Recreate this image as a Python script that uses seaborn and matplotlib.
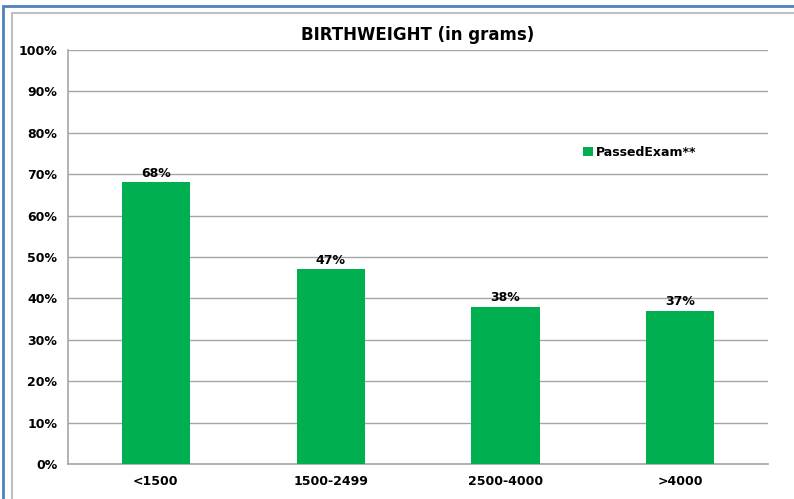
import matplotlib
matplotlib.use("Agg")
import matplotlib.pyplot as plt
import seaborn as sns
import pandas as pd
from matplotlib.patches import Rectangle
from matplotlib.ticker import PercentFormatter

# values
categories = ['<1500', '1500-2499', '2500-4000', '>4000']
passed_exam = [68, 47, 38, 37]
series_name = 'PassedExam**'

df = pd.DataFrame({'weight': categories, 'pct': passed_exam})

sns.set_style("white")
plt.rcParams['font.family'] = ['DejaVu Sans']
plt.rcParams['text.color'] = 'black'
plt.rcParams['xtick.color'] = 'black'
plt.rcParams['ytick.color'] = 'black'

green = '#00B050'
fig = plt.figure(figsize=(7.94, 4.99), dpi=100)
ax = fig.add_axes([0.086, 0.070, 0.881, 0.830])

sns.barplot(data=df, x='weight', y='pct', color=green, width=0.39,
            saturation=1, ax=ax, label=series_name, zorder=3, linewidth=0)

for i, v in enumerate(passed_exam):
    ax.text(i, v + 0.6, f'{v}%', ha='center', va='bottom',
            fontsize=9, fontweight='bold', color='black')

ax.set_ylim(0, 100)
ax.set_xlim(-0.5, 3.5)
ax.set_yticks(range(0, 101, 10))
ax.yaxis.set_major_formatter(PercentFormatter(decimals=0))
ax.grid(axis='y', color='#a6a6a6', linewidth=1.0, zorder=0)
ax.set_xlabel('')
ax.set_ylabel('')
for s in ['top', 'right']:
    ax.spines[s].set_visible(False)
for s in ['left', 'bottom']:
    ax.spines[s].set_color('#a6a6a6')
    ax.spines[s].set_linewidth(1.2)
ax.tick_params(axis='both', length=0, labelsize=9, pad=8)
for lbl in ax.get_xticklabels() + ax.get_yticklabels():
    lbl.set_fontweight('bold')

ax.set_title('BIRTHWEIGHT (in grams)', fontsize=12, fontweight='bold', pad=7,
             color='black')

leg = ax.legend(loc='upper left', bbox_to_anchor=(0.72, 0.795), frameon=False,
                handlelength=0.75, handleheight=0.75, handletextpad=0.3,
                prop={'weight': 'bold', 'size': 9})

# outer chart frame
fig.patches.append(Rectangle((0.004, -0.01), 1.1, 0.998, transform=fig.transFigure,
                             fill=False, edgecolor='#4f81bd', linewidth=2))
fig.patches.append(Rectangle((0.015, -0.01), 1.1, 0.983, transform=fig.transFigure,
                             fill=False, edgecolor='#bfbfbf', linewidth=1.5))

fig.savefig('out.png', dpi=100)
